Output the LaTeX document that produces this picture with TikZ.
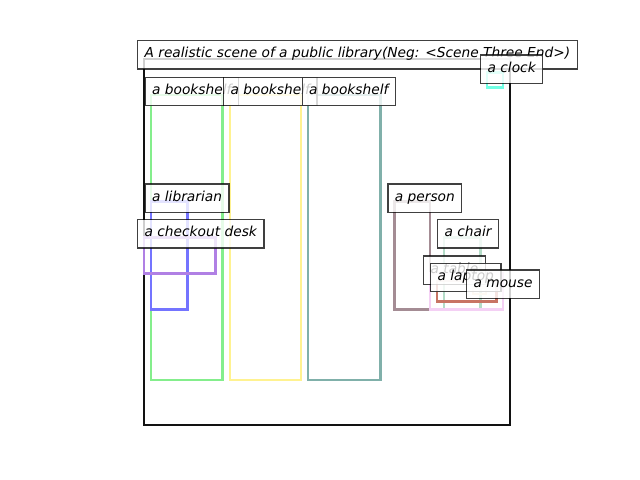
\documentclass[tikz,border=0pt]{standalone}
\usepackage{fontspec}
\setmainfont{DejaVu Sans}
\begin{document}
\begin{tikzpicture}[x=0.72pt,y=-0.72pt,
  objbox/.style={line width=1.8pt},
  lab/.style={anchor=north west,draw=black,draw opacity=0.75,fill=white,fill opacity=0.8,text opacity=1,
    line width=0.9pt,inner xsep=5.04pt,inner ysep=0pt,minimum height=20.4pt,
    text height=7.4pt,text depth=3pt,font=\fontsize{9.9pt}{12pt}\selectfont\itshape}]
\useasboundingbox (0,0) rectangle (640,480);
% frame
\draw[line width=1.8pt,color=black!93] (144,59) rectangle (510,425);
% objects
\definecolor{cclock}{HTML}{70FFE4}
\definecolor{cbsa}{HTML}{84EE8C}
\definecolor{cbsb}{HTML}{FFF290}
\definecolor{cbsc}{HTML}{80B0AA}
\definecolor{clib}{HTML}{7474FF}
\definecolor{cdesk}{HTML}{B080E4}
\definecolor{cperson}{HTML}{A48C94}
\definecolor{cchair}{HTML}{B4DCC8}
\definecolor{ctable}{HTML}{F4D0F4}
\definecolor{claptop}{HTML}{C87464}
\definecolor{cmouse}{HTML}{F8E2C6}
\draw[objbox,cclock] (487,72.7) rectangle (503,87.7);
\draw[objbox,cbsa] (151,95) rectangle (222.3,380);
\draw[objbox,cbsb] (230,95) rectangle (301,380);
\draw[objbox,cbsc] (308,95) rectangle (380.5,380);
\draw[objbox,clib] (151,201.7) rectangle (187.7,309.3);
\draw[objbox,cdesk] (144,237.3) rectangle (215.5,273.3);
\draw[objbox,cperson] (394.3,201.7) rectangle (430,309.3);
\draw[objbox,cchair] (444,237.3) rectangle (480.5,309.3);
\draw[objbox,ctable] (430,273.7) rectangle (503,309.3);
\draw[objbox,claptop] (437,281) rectangle (496.5,301.7);
\draw[objbox,cmouse] (473,287.7) rectangle (486,294);
% labels
\node[lab] (title) at (137,40) {A realistic scene of a public library(Neg: <Scene Three End>)};
\node[lab] (clock) at (480,54.3) {a clock};
\node[lab] (bs1) at (144.5,76.6) {a bookshelf};
\node[lab] (bs2) at (223,76.6) {a bookshelf};
\node[lab] (bs3) at (301.5,76.6) {a bookshelf};
\node[lab] (librarian) at (144.5,183.3) {a librarian};
\node[lab] (desk) at (137,219) {a checkout desk};
\node[lab] (person) at (387.3,183.3) {a person};
\node[lab] (chair) at (437,219) {a chair};
\node[lab] (table) at (423,255.3) {a table};
\node[lab] (laptop) at (430,262.6) {a laptop};
\node[lab] (mouse) at (466,269.3) {a mouse};
\end{tikzpicture}
\end{document}
